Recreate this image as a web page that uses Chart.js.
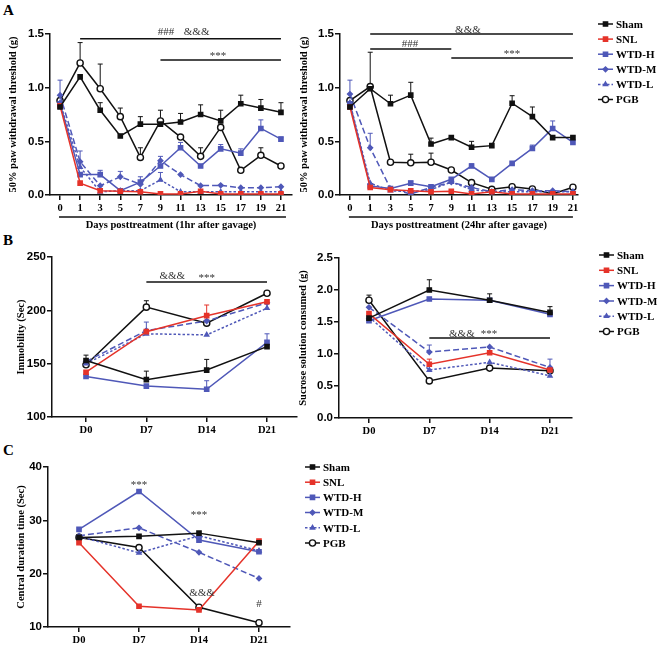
<!DOCTYPE html>
<html>
<head>
<meta charset="utf-8">
<script src="https://cdn.jsdelivr.net/npm/chart.js@4.4.1/dist/chart.umd.min.js"></script>
<style>
  body { margin: 0; background: #fff; }
  #page { position: relative; width: 660px; height: 648px; overflow: hidden; }
  #page canvas { position: absolute; }
  .panel-letter { position: absolute; font: bold 15px "Liberation Serif", serif; color: #000; }
</style>
</head>
<body>
<div id="page">
  <div class="panel-letter" style="left:3px;top:2px;">A</div>
  <div class="panel-letter" style="left:3px;top:232px;">B</div>
  <div class="panel-letter" style="left:3px;top:442px;">C</div>
  <canvas id="a-1hr" width="300" height="234" style="left:0;top:0;"></canvas>
  <canvas id="a-24hr" width="368" height="234" style="left:292px;top:0;"></canvas>
  <canvas id="b-immobility" width="310" height="200" style="left:0;top:240px;"></canvas>
  <canvas id="b-sucrose" width="368" height="200" style="left:292px;top:240px;"></canvas>
  <canvas id="c-central" width="660" height="208" style="left:0;top:440px;"></canvas>
</div>
<script>
// groups and tick labels
const groups = ["Sham", "SNL", "WTD-H", "WTD-M", "WTD-L", "PGB"];
const dayLabels = ["0", "1", "3", "5", "7", "9", "11", "13", "15", "17", "19", "21"];
const weekLabels = ["D0", "D7", "D14", "D21"];

// panel A, 1hr after gavage (mean, upper SEM)
const a1Sham = [0.82, 1.1, 0.79, 0.55, 0.66, 0.66, 0.68, 0.75, 0.69, 0.85, 0.81, 0.77];
const a1ShamErr = [0.03, 0, 0.07, 0, 0.07, 0, 0.08, 0.09, 0.1, 0.08, 0.08, 0.09];
const a1Snl = [0.83, 0.11, 0.04, 0.035, 0.03, 0.01, 0.01, 0.035, 0.01, 0.01, 0.01, 0.01];
const a1WtdH = [0.85, 0.19, 0.19, 0.04, 0.12, 0.27, 0.44, 0.27, 0.43, 0.39, 0.62, 0.52];
const a1WtdHErr = [0, 0, 0.04, 0, 0.05, 0, 0.05, 0, 0.04, 0.04, 0.08, 0.02];
const a1WtdM = [0.93, 0.31, 0.087, 0.17, 0.1, 0.32, 0.19, 0.087, 0.09, 0.068, 0.068, 0.077];
const a1WtdMErr = [0.14, 0.1, 0, 0.05, 0, 0.04, 0, 0, 0, 0, 0, 0];
const a1WtdL = [0.86, 0.26, 0.03, 0.04, 0.04, 0.14, 0.03, 0.03, 0.03, 0.03, 0.03, 0.03];
const a1WtdLErr = [0, 0, 0, 0, 0, 0.07, 0, 0, 0, 0, 0, 0];
const a1Pgb = [0.88, 1.23, 0.99, 0.73, 0.35, 0.69, 0.54, 0.36, 0.63, 0.23, 0.37, 0.27];
const a1PgbErr = [0, 0.19, 0.23, 0.08, 0.09, 0.1, 0, 0.08, 0, 0, 0.07, 0];

// panel A, 24hr after gavage
const a24Sham = [0.82, 0.99, 0.85, 0.93, 0.475, 0.535, 0.445, 0.46, 0.855, 0.73, 0.535, 0.535];
const a24ShamErr = [0.03, 0, 0.08, 0.12, 0.055, 0, 0.055, 0, 0.07, 0.09, 0, 0];
const a24Snl = [0.82, 0.07, 0.05, 0.04, 0.03, 0.035, 0.01, 0.03, 0.01, 0.01, 0.01, 0.01];
const a24WtdH = [0.85, 0.085, 0.06, 0.11, 0.077, 0.146, 0.27, 0.146, 0.295, 0.435, 0.62, 0.49];
const a24WtdHErr = [0, 0, 0, 0.02, 0, 0, 0.02, 0, 0, 0.03, 0.07, 0];
const a24WtdM = [0.94, 0.44, 0.06, 0.01, 0.07, 0.12, 0.07, 0.03, 0.05, 0.04, 0.04, 0.03];
const a24WtdMErr = [0.13, 0.135, 0, 0, 0, 0, 0, 0, 0, 0, 0, 0];
const a24WtdL = [0.86, 0.11, 0.04, 0.03, 0.05, 0.12, 0.05, 0.03, 0.03, 0.03, 0.03, 0.03];
const a24Pgb = [0.88, 1.01, 0.305, 0.3, 0.305, 0.233, 0.115, 0.053, 0.077, 0.056, 0.01, 0.072];
const a24PgbErr = [0, 0.32, 0, 0.08, 0.085, 0, 0, 0, 0, 0, 0, 0];

// panel B, immobility (sec)
const bImmSham = [153, 135, 144, 166];
const bImmShamErr = [5, 8, 10, 0];
const bImmSnl = [142, 180, 195, 208];
const bImmSnlErr = [0, 0, 10, 0];
const bImmWtdH = [138, 129, 126, 170];
const bImmWtdHErr = [0, 0, 8, 8];
const bImmWtdM = [152, 181, 190, 207];
const bImmWtdMErr = [0, 8, 0, 0];
const bImmWtdL = [150, 178, 177, 202];
const bImmPgb = [149, 203, 188, 216];
const bImmPgbErr = [0, 6, 0, 0];

// panel B, sucrose consumed (g)
const bSucSham = [1.56, 2.0, 1.84, 1.65];
const bSucShamErr = [0, 0.16, 0.1, 0.09];
const bSucSnl = [1.63, 0.84, 1.02, 0.75];
const bSucSnlErr = [0, 0.08, 0.09, 0];
const bSucWtdH = [1.52, 1.86, 1.84, 1.62];
const bSucWtdM = [1.73, 1.03, 1.11, 0.79];
const bSucWtdMErr = [0, 0.11, 0, 0.13];
const bSucWtdL = [1.58, 0.75, 0.87, 0.66];
const bSucPgb = [1.84, 0.58, 0.78, 0.74];
const bSucPgbErr = [0.08, 0, 0, 0];

// panel C, central duration time (sec)
const cSham = [26.8, 27.0, 27.6, 25.8];
const cSnl = [25.8, 13.9, 13.2, 26.1];
const cWtdH = [28.3, 35.4, 26.3, 24.1];
const cWtdM = [27.1, 28.6, 24.0, 19.1];
const cWtdL = [27.0, 23.9, 27.1, 24.3];
const cPgb = [26.8, 24.9, 13.7, 10.8];

// fonts and colours
const SERIF = "'Liberation Serif', 'Times New Roman', serif";
const SANS = "'Liberation Sans', Arial, sans-serif";
const BLACK = "#111111";
const RED = "#e5332a";
const BLUE = "#4f58b8";

const groupStyles = [
  { color: BLACK, dash: [], point: "rect", radius: 3, fill: BLACK },
  { color: RED, dash: [], point: "rect", radius: 3, fill: RED },
  { color: BLUE, dash: [], point: "rect", radius: 3, fill: BLUE },
  { color: BLUE, dash: [6, 3], point: "rectRot", radius: 2.4, fill: BLUE },
  { color: BLUE, dash: [2.5, 2], point: "triangle", radius: 2.4, fill: BLUE },
  { color: BLACK, dash: [], point: "circle", radius: 3.1, fill: "#ffffff" },
];

// upper error bars
const errorBarPlugin = {
  id: "errorBars",
  beforeDatasetsDraw(chart) {
    const { ctx, scales } = chart;
    chart.data.datasets.forEach((ds) => {
      if (!ds.errs) return;
      ctx.save();
      ctx.strokeStyle = ds.borderColor;
      ctx.lineWidth = 1;
      ds.data.forEach((pt, i) => {
        const e = ds.errs[i];
        if (!e) return;
        const px = scales.x.getPixelForValue(pt.x);
        const y0 = scales.y.getPixelForValue(pt.y);
        const y1 = scales.y.getPixelForValue(pt.y + e);
        ctx.beginPath();
        ctx.moveTo(px, y0);
        ctx.lineTo(px, y1);
        ctx.moveTo(px - 2.5, y1);
        ctx.lineTo(px + 2.5, y1);
        ctx.stroke();
      });
      ctx.restore();
    });
  },
};

// significance bars, marks and the line over the x title
const sigPlugin = {
  id: "sigMarks",
  afterDraw(chart, args, opts) {
    const { ctx, scales } = chart;
    ctx.save();
    ctx.strokeStyle = BLACK;
    ctx.lineWidth = 1.5;
    (opts.bars || []).forEach((b) => {
      const yy = scales.y.getPixelForValue(b.y);
      ctx.beginPath();
      ctx.moveTo(scales.x.getPixelForValue(b.from), yy);
      ctx.lineTo(scales.x.getPixelForValue(b.to), yy);
      ctx.stroke();
    });
    if (opts.overline) {
      const o = opts.overline;
      ctx.beginPath();
      ctx.moveTo(scales.x.getPixelForValue(o.from), o.py);
      ctx.lineTo(scales.x.getPixelForValue(o.to), o.py);
      ctx.stroke();
    }
    ctx.fillStyle = "#333";
    ctx.font = "11px " + SERIF;
    ctx.textAlign = "center";
    ctx.textBaseline = "alphabetic";
    (opts.texts || []).forEach((t) => {
      ctx.fillText(t.label, scales.x.getPixelForValue(t.x), scales.y.getPixelForValue(t.y));
    });
    ctx.restore();
  },
};

// legend drawn at the side: short line, marker, label
const sideLegendPlugin = {
  id: "sideLegend",
  afterDraw(chart, args, opts) {
    if (!opts.show) return;
    const ctx = chart.ctx;
    chart.data.datasets.forEach((ds, k) => {
      const y = opts.top + k * opts.gap;
      ctx.save();
      ctx.strokeStyle = ds.borderColor;
      ctx.lineWidth = 1.5;
      ctx.setLineDash(ds.borderDash);
      ctx.beginPath();
      ctx.moveTo(opts.left, y);
      ctx.lineTo(opts.left + 15, y);
      ctx.stroke();
      ctx.setLineDash([]);
      ctx.fillStyle = ds.pointBackgroundColor;
      ctx.lineWidth = ds.pointBorderWidth;
      Chart.helpers.drawPoint(ctx, {
        pointStyle: ds.pointStyle,
        radius: ds.pointRadius,
        rotation: 0,
        borderWidth: ds.pointBorderWidth,
      }, opts.left + 7.5, y);
      ctx.fillStyle = "#000";
      ctx.font = "bold 11px " + SERIF;
      ctx.textAlign = "left";
      ctx.textBaseline = "middle";
      ctx.fillText(ds.label, opts.left + 18, y + 1);
      ctx.restore();
    });
  },
};

const buildDatasets = (series, errs) =>
  series.map((vals, k) => ({
    label: groups[k],
    data: vals.map((v, i) => ({ x: i, y: v })),
    errs: errs[k],
    borderColor: groupStyles[k].color,
    borderWidth: 1.5,
    borderDash: groupStyles[k].dash,
    pointStyle: groupStyles[k].point,
    pointRadius: groupStyles[k].radius,
    pointBackgroundColor: groupStyles[k].fill,
    pointBorderColor: groupStyles[k].color,
    pointBorderWidth: 1.4,
    tension: 0,
    fill: false,
  }));

const makePanel = (id, p) => {
  const ctx = document.getElementById(id);
  return new Chart(ctx, {
    type: "line",
    data: { datasets: buildDatasets(p.series, p.errs) },
    plugins: [errorBarPlugin, sigPlugin, sideLegendPlugin],
    options: {
      responsive: false,
      animation: false,
      layout: { padding: p.padding },
      plugins: {
        legend: { display: false },
        tooltip: { enabled: false },
        sigMarks: p.sig,
        sideLegend: p.legend || { show: false },
      },
      scales: {
        x: {
          type: "linear",
          min: p.xMin,
          max: p.xMax,
          afterBuildTicks: (scale) => {
            scale.ticks = p.labels.map((_, i) => ({ value: i }));
          },
          afterFit: (scale) => {
            scale.height = p.xHeight;
          },
          ticks: {
            autoSkip: false,
            maxRotation: 0,
            padding: 2,
            color: "#000",
            font: { family: SERIF, weight: "bold", size: 10.5 },
            callback: (v) => p.labels[v],
          },
          grid: { drawOnChartArea: false, drawTicks: true, tickLength: 5, color: BLACK, lineWidth: 1.5 },
          border: { display: true, color: BLACK, width: 1.5 },
          title: {
            display: !!p.xTitle,
            text: p.xTitle,
            color: "#000",
            font: { family: SERIF, weight: "bold", size: 10.5 },
            padding: { top: 4, bottom: 2 },
          },
        },
        y: {
          min: p.yMin,
          max: p.yMax,
          afterFit: (scale) => {
            scale.width = p.yWidth;
          },
          ticks: {
            stepSize: p.yStep,
            padding: 1,
            color: "#000",
            font: { family: SANS, weight: "bold", size: 11.5 },
            callback: (v) => v.toFixed(p.yDigits),
          },
          grid: { drawOnChartArea: false, drawTicks: true, tickLength: 5, color: BLACK, lineWidth: 1.5 },
          border: { display: true, color: BLACK, width: 1.5 },
          title: {
            display: true,
            text: p.yTitle,
            color: "#000",
            font: { family: SERIF, weight: "bold", size: 10.5 },
            padding: { top: p.yTitlePad, bottom: 2 },
          },
        },
      },
    },
  });
};

// panel A left
const setupA1 = () => {
  makePanel("a-1hr", {
    series: [a1Sham, a1Snl, a1WtdH, a1WtdM, a1WtdL, a1Pgb],
    errs: [a1ShamErr, null, a1WtdHErr, a1WtdMErr, a1WtdLErr, a1PgbErr],
    labels: dayLabels,
    xMin: -0.5, xMax: 11.55,
    yMin: 0, yMax: 1.5, yStep: 0.5, yDigits: 1,
    yWidth: 50, xHeight: 39, yTitlePad: 7,
    padding: { top: 34, right: 8, left: 0, bottom: 0 },
    yTitle: "50% paw withdrawal threshold (g)",
    xTitle: "Days posttreatment (1hr after gavage)",
    sig: {
      bars: [{ from: 1, to: 11, y: 1.455 }, { from: 5, to: 11, y: 1.258 }],
      texts: [
        { label: "###", x: 5.28, y: 1.49 },
        { label: "&&&", x: 6.8, y: 1.49 },
        { label: "***", x: 7.86, y: 1.27 },
      ],
      overline: { from: -0.05, to: 11.25, py: 217 },
    },
  });
};

// panel A right
const setupA24 = () => {
  makePanel("a-24hr", {
    series: [a24Sham, a24Snl, a24WtdH, a24WtdM, a24WtdL, a24Pgb],
    errs: [a24ShamErr, null, a24WtdHErr, a24WtdMErr, null, a24PgbErr],
    labels: dayLabels,
    xMin: -0.49, xMax: 11.25,
    yMin: 0, yMax: 1.5, yStep: 0.5, yDigits: 1,
    yWidth: 48, xHeight: 39, yTitlePad: 6,
    padding: { top: 34, right: 82, left: 0, bottom: 0 },
    yTitle: "50% paw withdrawal threshold (g)",
    xTitle: "Days posttreatment (24hr after gavage)",
    sig: {
      bars: [{ from: 1, to: 11, y: 1.5 }, { from: 1, to: 5, y: 1.36 }, { from: 5, to: 11, y: 1.276 }],
      texts: [
        { label: "&&&", x: 5.82, y: 1.51 },
        { label: "###", x: 2.96, y: 1.375 },
        { label: "***", x: 8.0, y: 1.285 },
      ],
      overline: { from: -0.05, to: 11.0, py: 217 },
    },
    legend: { show: true, left: 306, top: 24, gap: 15.1 },
  });
};

// panel B left
const setupImmobility = () => {
  makePanel("b-immobility", {
    series: [bImmSham, bImmSnl, bImmWtdH, bImmWtdM, bImmWtdL, bImmPgb],
    errs: [bImmShamErr, bImmSnlErr, bImmWtdHErr, bImmWtdMErr, null, bImmPgbErr],
    labels: weekLabels,
    xMin: -0.564, xMax: 3.497,
    yMin: 100, yMax: 250, yStep: 50, yDigits: 0,
    yWidth: 52, xHeight: 23, yTitlePad: 15,
    padding: { top: 17, right: 13, left: 0, bottom: 0 },
    yTitle: "Immobility (Sec)",
    sig: {
      bars: [{ from: 1, to: 3, y: 226.6 }],
      texts: [
        { label: "&&&", x: 1.43, y: 229.5 },
        { label: "***", x: 2.0, y: 227.5 },
      ],
    },
  });
};

// panel B right
const setupSucrose = () => {
  makePanel("b-sucrose", {
    series: [bSucSham, bSucSnl, bSucWtdH, bSucWtdM, bSucWtdL, bSucPgb],
    errs: [bSucShamErr, bSucSnlErr, null, bSucWtdMErr, null, bSucPgbErr],
    labels: weekLabels,
    xMin: -0.497, xMax: 3.365,
    yMin: 0, yMax: 2.5, yStep: 0.5, yDigits: 1,
    yWidth: 47, xHeight: 22, yTitlePad: 5,
    padding: { top: 18, right: 88, left: 0, bottom: 0 },
    yTitle: "Sucrose solution consumed (g)",
    sig: {
      bars: [{ from: 1, to: 3, y: 1.25 }],
      texts: [
        { label: "&&&", x: 1.54, y: 1.273 },
        { label: "***", x: 1.99, y: 1.262 },
      ],
    },
    legend: { show: true, left: 307, top: 15, gap: 15.3 },
  });
};

// panel C
const setupCentral = () => {
  makePanel("c-central", {
    series: [cSham, cSnl, cWtdH, cWtdM, cWtdL, cPgb],
    errs: [null, null, null, null, null, null],
    labels: weekLabels,
    xMin: -0.517, xMax: 3.517,
    yMin: 10, yMax: 40, yStep: 10, yDigits: 0,
    yWidth: 48, xHeight: 21, yTitlePad: 15,
    padding: { top: 27, right: 370, left: 0, bottom: 0 },
    yTitle: "Central duration time (Sec)",
    sig: {
      texts: [
        { label: "***", x: 1, y: 35.97 },
        { label: "***", x: 2, y: 30.53 },
        { label: "&&&", x: 2.05, y: 15.8 },
        { label: "#", x: 3, y: 13.75 },
      ],
    },
    legend: { show: true, left: 305, top: 27, gap: 15.2 },
  });
};

setupA1();
setupA24();
setupImmobility();
setupSucrose();
setupCentral();
</script>
</body>
</html>
